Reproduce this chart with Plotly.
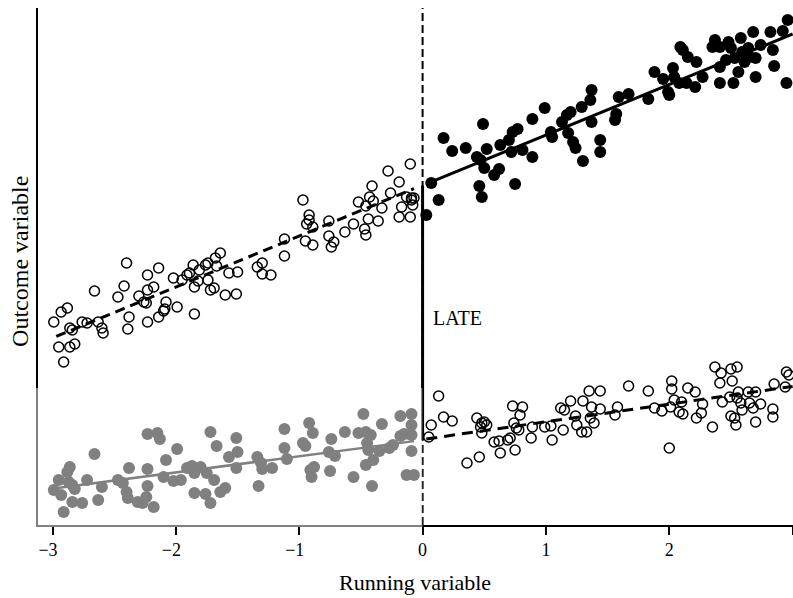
import plotly.graph_objects as go
import numpy as np

# ---------------- data ----------------
# upper-left: untreated units below cutoff (open circles)
ul_x = [-2.99, -2.93, -2.88, -2.86, -2.84, -2.95, -2.86, -2.82, -2.91, -2.76,
        -2.72, -2.66, -2.63, -2.60, -2.59, -2.47, -2.42, -2.40, -2.38, -2.39,
        -2.30, -2.26, -2.24, -2.23, -2.23, -2.18, -2.14, -2.23, -2.14, -2.10,
        -2.08, -2.09, -2.02, -1.99, -1.95, -1.91, -1.89, -1.86, -1.85, -1.85,
        -1.81, -1.82, -1.76, -1.74, -1.74, -1.72, -1.69, -1.68, -1.67, -1.64,
        -1.60, -1.57, -1.51, -1.50, -1.34, -1.30, -1.30, -1.23, -1.12, -1.12,
        -0.97, -0.92, -0.92, -0.94, -0.89, -0.95, -0.89, -0.76, -0.76, -0.72,
        -0.74, -0.63, -0.56, -0.52, -0.46, -0.43, -0.41, -0.40, -0.44, -0.47,
        -0.46, -0.36, -0.33, -0.28, -0.26, -0.19, -0.17, -0.19, -0.13, -0.10,
        -0.09, -0.08, -0.09, -0.07, -0.10]
ul_y = [2.03, 2.13, 2.17, 1.97, 1.95, 1.78, 1.78, 1.81, 1.63, 2.03,
        2.02, 2.34, 2.03, 1.97, 1.92, 2.28, 2.39, 2.62, 2.08, 1.96,
        2.29, 2.23, 2.22, 2.50, 2.35, 2.38, 2.57, 2.03, 2.08, 2.14,
        2.23, 2.16, 2.47, 2.18, 2.45, 2.50, 2.52, 2.60, 2.38, 2.11,
        2.55, 2.44, 2.60, 2.62, 2.45, 2.35, 2.37, 2.67, 2.59, 2.72,
        2.30, 2.52, 2.31, 2.53, 2.58, 2.62, 2.51, 2.50, 2.69, 2.86,
        3.25, 3.10, 3.05, 3.01, 2.98, 2.84, 2.80, 3.04, 2.89, 2.83,
        2.78, 2.93, 3.01, 3.23, 3.19, 3.28, 3.39, 3.24, 3.06, 2.96,
        2.90, 3.04, 3.17, 3.54, 3.32, 3.43, 3.18, 3.08, 3.28, 3.61,
        3.25, 3.20, 3.27, 3.27, 3.08]

# upper-right: treated units above cutoff (filled black)
ur_x = [0.07, 0.13, 0.03, 0.17, 0.24, 0.35, 0.49, 0.44, 0.47, 0.52,
        0.50, 0.46, 0.48, 0.58, 0.62, 0.63, 0.70, 0.73, 0.77, 0.72,
        0.81, 0.75, 0.89, 0.89, 0.99, 1.04, 1.05, 1.13, 1.17, 1.20,
        1.18, 1.22, 1.24, 1.30, 1.29, 1.36, 1.37, 1.37, 1.44, 1.44,
        1.57, 1.56, 1.59, 1.67, 1.83, 1.88, 1.95, 1.99, 2.00, 2.03,
        2.04, 2.09, 2.11, 2.15, 2.22, 2.08, 2.14, 2.21, 2.27, 2.37,
        2.35, 2.41, 2.41, 2.41, 2.48, 2.50, 2.52, 2.53, 2.56, 2.58,
        2.59, 2.64, 2.65, 2.68, 2.70, 2.70, 2.74, 2.82, 2.84, 2.85,
        2.92, 2.96, 2.95, 2.61, 2.46]
ur_y = [3.42, 3.25, 3.10, 3.87, 3.74, 3.77, 4.01, 3.68, 3.65, 3.76,
        3.57, 3.39, 3.28, 3.50, 3.56, 3.80, 3.85, 3.93, 3.96, 3.73,
        3.75, 3.41, 4.06, 3.68, 4.17, 3.93, 3.88, 4.03, 4.10, 4.13,
        3.92, 3.83, 3.77, 3.64, 4.18, 4.25, 4.35, 4.03, 3.85, 3.73,
        4.11, 4.05, 4.28, 4.31, 4.26, 4.53, 4.46, 4.33, 4.30, 4.57,
        4.48, 4.78, 4.75, 4.68, 4.63, 4.42, 4.42, 4.38, 4.48, 4.85,
        4.78, 4.78, 4.58, 4.42, 4.83, 4.77, 4.42, 4.67, 4.53, 4.87,
        4.73, 4.77, 4.68, 4.93, 4.67, 4.48, 4.80, 4.93, 4.75, 4.59,
        4.94, 5.05, 4.42, 4.63, 4.65]

# lower-left: lower group below cutoff (filled, faded)
ll_x = [-2.99, -2.95, -2.93, -2.91, -2.88, -2.86, -2.87, -2.84, -2.82, -2.84,
        -2.76, -2.72, -2.66, -2.63, -2.60, -2.47, -2.43, -2.40, -2.39, -2.38,
        -2.31, -2.27, -2.24, -2.23, -2.23, -2.23, -2.15, -2.13, -2.18, -2.10,
        -2.08, -2.02, -1.96, -1.99, -1.91, -1.87, -1.85, -1.80, -1.85, -1.75,
        -1.76, -1.72, -1.72, -1.69, -1.67, -1.64, -1.60, -1.57, -1.51, -1.50,
        -1.51, -1.34, -1.31, -1.30, -1.22, -1.33, -1.12, -1.12, -1.10, -0.97,
        -0.95, -0.92, -0.89, -0.91, -0.90, -0.88, -0.74, -0.76, -0.71, -0.75,
        -0.63, -0.56, -0.52, -0.48, -0.46, -0.42, -0.45, -0.44, -0.40, -0.46,
        -0.41, -0.33, -0.35, -0.27, -0.24, -0.18, -0.18, -0.15, -0.09, -0.09,
        -0.09, -0.09, -0.13, -0.07]
ll_y = [0.35, 0.45, 0.30, 0.13, 0.53, 0.58, 0.43, 0.40, 0.36, 0.23,
        0.22, 0.45, 0.71, 0.25, 0.38, 0.45, 0.42, 0.33, 0.27, 0.57,
        0.23, 0.22, 0.28, 0.39, 0.56, 0.91, 0.92, 0.86, 0.18, 0.48,
        0.65, 0.44, 0.45, 0.76, 0.57, 0.59, 0.52, 0.58, 0.32, 0.52,
        0.31, 0.22, 0.93, 0.45, 0.79, 0.33, 0.37, 0.68, 0.87, 0.73,
        0.57, 0.68, 0.62, 0.56, 0.57, 0.39, 0.96, 0.77, 0.66, 0.82,
        0.79, 1.02, 0.92, 0.55, 0.48, 0.58, 0.86, 0.73, 0.69, 0.54,
        0.93, 0.48, 0.92, 1.11, 0.93, 0.90, 0.82, 0.75, 0.65, 0.60,
        0.39, 1.01, 0.74, 0.77, 0.80, 1.09, 0.89, 0.91, 1.11, 1.00,
        0.90, 0.74, 0.50, 0.50]

# lower-right: lower group above cutoff (open circles)
lr_x = [0.13, 0.07, 0.05, 0.17, 0.24, 0.36, 0.46, 0.44, 0.48, 0.50,
        0.52, 0.48, 0.47, 0.58, 0.63, 0.62, 0.69, 0.71, 0.75, 0.73,
        0.81, 0.79, 0.74, 0.76, 0.78, 0.89, 0.88, 0.99, 1.04, 1.05,
        1.12, 1.15, 1.20, 1.14, 1.24, 1.25, 1.30, 1.35, 1.44, 1.37,
        1.44, 1.29, 1.33, 1.36, 1.39, 1.58, 1.56, 1.67, 1.83, 1.88,
        1.94, 2.02, 2.02, 2.04, 2.01, 2.10, 2.08, 2.11, 2.15, 2.21,
        2.27, 2.26, 2.22, 2.35, 2.00, 2.37, 2.42, 2.41, 2.50, 2.55,
        2.51, 2.43, 2.49, 2.56, 2.55, 2.58, 2.59, 2.64, 2.65, 2.68,
        2.70, 2.74, 2.50, 2.53, 2.54, 2.70, 2.84, 2.84, 2.85, 2.94,
        2.95, 2.97]
lr_y = [1.29, 1.00, 0.88, 1.08, 1.04, 0.62, 0.68, 1.07, 1.02, 1.03,
        1.00, 0.92, 0.98, 0.83, 0.72, 0.84, 0.85, 0.87, 0.75, 1.19,
        1.18, 1.10, 1.02, 0.97, 0.95, 0.98, 0.87, 0.98, 0.99, 0.85,
        1.17, 1.15, 1.24, 0.95, 1.09, 1.00, 1.24, 1.34, 1.34, 1.18,
        1.16, 0.93, 0.93, 1.07, 1.02, 1.18, 1.10, 1.39, 1.34, 1.17,
        1.14, 1.44, 1.36, 1.25, 1.18, 1.23, 1.13, 1.11, 1.37, 1.33,
        1.21, 1.12, 1.07, 0.98, 0.77, 1.58, 1.52, 1.42, 1.56, 1.58,
        1.44, 1.23, 1.28, 1.33, 1.27, 1.22, 1.15, 1.33, 1.22, 1.17,
        1.33, 1.21, 1.09, 1.07, 1.00, 1.03, 1.16, 1.08, 1.41, 1.38,
        1.53, 1.50]

# fitted lines: (intercept, slope) and x-span
ul_fit = (3.40, 0.51);   ul_span = [-2.97, -0.07]
ur_fit = (3.395, 0.505); ur_span = [0.07, 3.0]
ll_fit = (0.85, 0.162);  ll_span = [-2.99, -0.07]
lr_fit = (0.855, 0.177); lr_span = [0.03, 3.0]

cutoff = 0.0
x_ticks = [-3, -2, -1, 0, 1, 2, 3]
x_range = [-3.118, 3.003]
y_range = [0, 5.17]
x_title = "Running variable"
y_title = "Outcome variable"
late_label = "LATE"

# ---------------- figure ----------------
FONT = "Liberation Serif"
fig = go.Figure()


def fit_line(fit, span, color, width, dash):
    xs = np.array(span, dtype=float)
    ys = fit[0] + fit[1] * xs
    return go.Scatter(x=xs, y=ys, mode="lines", hoverinfo="skip",
                      line=dict(color=color, width=width, dash=dash))


open_marker = dict(symbol="circle-open", size=10, color="black",
                   line=dict(width=1.5, color="black"))
fill_marker = dict(symbol="circle", size=12, color="black",
                   line=dict(width=0))

# cutoff dashed vertical line
fig.add_trace(go.Scatter(x=[cutoff, cutoff], y=y_range, mode="lines",
                         hoverinfo="skip",
                         line=dict(color="black", width=2, dash="8px,4px")))

fig.add_trace(go.Scatter(x=ul_x, y=ul_y, mode="markers", marker=open_marker))
fig.add_trace(go.Scatter(x=ur_x, y=ur_y, mode="markers", marker=fill_marker))
fig.add_trace(go.Scatter(x=ll_x, y=ll_y, mode="markers", marker=fill_marker))
fig.add_trace(go.Scatter(x=lr_x, y=lr_y, mode="markers", marker=open_marker))

fig.add_trace(fit_line(ul_fit, ul_span, "black", 3, "10px,6px"))
fig.add_trace(fit_line(ur_fit, ur_span, "black", 3, "solid"))
fig.add_trace(fit_line(ll_fit, ll_span, "black", 2.5, "solid"))
fig.add_trace(fit_line(lr_fit, lr_span, "black", 3, "11px,7px"))

# LATE jump line at cutoff
late_lo = ll_fit[0] + ll_fit[1] * cutoff
late_hi = ur_fit[0] + ur_fit[1] * cutoff
fig.add_trace(go.Scatter(x=[cutoff, cutoff], y=[late_lo, late_hi],
                         mode="lines", hoverinfo="skip",
                         line=dict(color="black", width=3)))

# faded veil over the lower-left group
fig.add_shape(type="rect", xref="paper", yref="paper",
              x0=-0.004, x1=0.509, y0=-0.004, y1=0.265,
              fillcolor="white", opacity=0.5, line=dict(width=0),
              layer="above")

tick_text = [("\u2212%d\u2002" % abs(v)) if v < 0 else str(v) for v in x_ticks]

fig.update_layout(
    width=793, height=598,
    margin=dict(l=38, r=0, t=8, b=73),
    plot_bgcolor="white", paper_bgcolor="white",
    showlegend=False,
    font=dict(family=FONT, color="black"),
    annotations=[
        dict(text=x_title, xref="paper", yref="paper", x=0.4993, y=-0.112,
             xanchor="center", yanchor="middle", showarrow=False,
             font=dict(family=FONT, size=22, color="black")),
        dict(text=y_title, xref="paper", yref="paper", x=-0.0238, y=0.509,
             xanchor="center", yanchor="middle", showarrow=False,
             textangle=-90,
             font=dict(family=FONT, size=24, color="black")),
        dict(text=late_label, xref="x", yref="y", x=0.07, y=2.07,
             xanchor="left", yanchor="middle", showarrow=False,
             font=dict(family=FONT, size=20, color="black")),
    ],
)
fig.update_xaxes(range=x_range, tickvals=x_ticks, ticktext=tick_text,
                 ticks="outside", ticklen=8, tickwidth=1.5, tickcolor="black",
                 showline=True, linecolor="black", linewidth=1.5,
                 showgrid=False, zeroline=False, automargin=False,
                 tickfont=dict(family=FONT, size=18, color="black"))
fig.update_yaxes(range=y_range, showline=True, linecolor="black",
                 linewidth=1.5, showticklabels=False, ticks="",
                 showgrid=False, zeroline=False, automargin=False)

fig.write_html("out.html")
